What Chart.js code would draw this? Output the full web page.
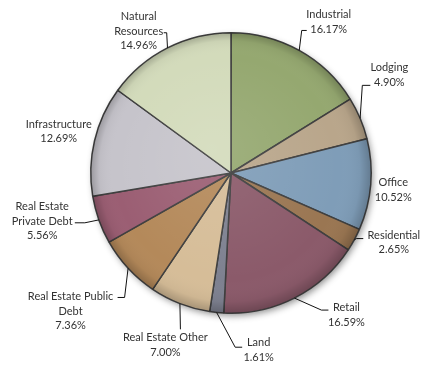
<!DOCTYPE html>
<html>
<head>
<meta charset="utf-8">
<script src="https://cdn.jsdelivr.net/npm/chart.js@4/dist/chart.umd.min.js"></script>
<style>
  html, body { margin: 0; padding: 0; background: #ffffff; }
  #wrap { width: 422px; height: 367px; }
</style>
</head>
<body>
<div id="wrap"><canvas id="pie" width="422" height="367"></canvas></div>
<script>
// Portfolio allocation by property / asset type (percent of total)
const categories = [
  'Industrial', 'Lodging', 'Office', 'Residential', 'Retail', 'Land',
  'Real Estate Other', 'Real Estate Public Debt', 'Real Estate Private Debt',
  'Infrastructure', 'Natural Resources'
];
const shares = [16.17, 4.90, 10.52, 2.65, 16.59, 1.61, 7.00, 7.36, 5.56, 12.69, 14.96];

// How each category name is broken onto lines in its label
const labelLines = [
  ['Industrial'], ['Lodging'], ['Office'], ['Residential'], ['Retail'], ['Land'],
  ['Real Estate Other'], ['Real Estate Public', 'Debt'], ['Real Estate', 'Private Debt'],
  ['Infrastructure'], ['Natural', 'Resources']
];

const sliceColors = [
  '#95a870', '#b9a68b', '#7f9db8', '#9a7652', '#8b5a6a', '#7e8190',
  '#d6bd98', '#b4895a', '#9b5e73', '#c6c4cb', '#d3dbbb'
];

// Label placement relative to the point on the rim at each slice's mid-angle:
// text = centre of the text block, elbow = bend of the leader line, tick = horizontal end
const labelPlacement = [
  { text: [29.5, -28.3], elbow: [2.5, -20],   tick: 5 },
  { text: [29.2, -43.4], elbow: [2.2, -32.9], tick: 8 },
  { text: [22.5, 5.2],   elbow: null,          tick: 0 },
  { text: [39.6, 2.7],   elbow: [2, -1.3],    tick: 7 },
  { text: [52, 17],      elbow: [27, 12],     tick: 7 },
  { text: [42, 37.7],    elbow: [18.5, 34.7], tick: 7 },
  { text: [-14.5, 41.2], elbow: [0.5, 25.7],  tick: 0 },
  { text: [-57.5, 42.7], elbow: [-3.5, 29.2], tick: -7 },
  { text: [-56.6, 1.4],  elbow: [-14, 2.9],   tick: -10 },
  { text: [-35.8, -9.1], elbow: null,          tick: 0 },
  { text: [-28.8, -16.7], elbow: [-0.8, -15.2], tick: -3 }
];

const LABEL_FONT = '11px Lato, "Open Sans", sans-serif';
const LINE_HEIGHT = 14.6;

// Soft drop shadow under the whole pie, drawn before the slices
const pieShadow = {
  id: 'pieShadow',
  beforeDatasetsDraw(chart) {
    const arc = chart.getDatasetMeta(0).data[0];
    if (!arc) return;
    const { x, y, outerRadius } = arc.getProps(['x', 'y', 'outerRadius'], true);
    const ctx = chart.ctx;
    ctx.save();
    ctx.shadowColor = 'rgba(0,0,0,0.45)';
    ctx.shadowBlur = 7;
    ctx.shadowOffsetX = 2;
    ctx.shadowOffsetY = 3;
    ctx.fillStyle = '#888888';
    ctx.beginPath();
    ctx.arc(x, y, outerRadius - 0.5, 0, Math.PI * 2);
    ctx.fill();
    ctx.restore();
  }
};

// Light bevel shading over the slices, then labels with leader lines
const pieLabels = {
  id: 'pieLabels',
  afterDatasetsDraw(chart) {
    const ctx = chart.ctx;
    const arcs = chart.getDatasetMeta(0).data;
    if (!arcs.length) return;
    const c = arcs[0].getProps(['x', 'y', 'outerRadius'], true);

    ctx.save();
    const g = ctx.createRadialGradient(c.x - 20, c.y - 25, 0, c.x, c.y, c.outerRadius);
    g.addColorStop(0, 'rgba(255,255,255,0.10)');
    g.addColorStop(0.8, 'rgba(255,255,255,0.0)');
    g.addColorStop(0.93, 'rgba(0,0,0,0.04)');
    g.addColorStop(1, 'rgba(0,0,0,0.22)');
    ctx.fillStyle = g;
    ctx.beginPath();
    ctx.arc(c.x, c.y, c.outerRadius, 0, Math.PI * 2);
    ctx.fill();
    ctx.restore();

    ctx.save();
    ctx.font = LABEL_FONT;
    ctx.textAlign = 'center';
    ctx.textBaseline = 'middle';
    arcs.forEach((arc, i) => {
      const p = arc.getProps(['x', 'y', 'startAngle', 'endAngle', 'outerRadius'], true);
      const mid = (p.startAngle + p.endAngle) / 2;
      const ex = p.x + Math.cos(mid) * p.outerRadius;
      const ey = p.y + Math.sin(mid) * p.outerRadius;
      const place = labelPlacement[i];

      if (place.elbow) {
        const bx = ex + place.elbow[0];
        const by = ey + place.elbow[1];
        ctx.strokeStyle = '#111111';
        ctx.lineWidth = 1;
        ctx.beginPath();
        ctx.moveTo(ex, ey);
        ctx.lineTo(bx, by);
        if (place.tick) ctx.lineTo(bx + place.tick, by);
        ctx.stroke();
      }

      const lines = labelLines[i].concat([shares[i].toFixed(2) + '%']);
      const tx = ex + place.text[0];
      const ty = ey + place.text[1];
      const top = ty - (lines.length - 1) * LINE_HEIGHT / 2;
      ctx.fillStyle = '#333333';
      lines.forEach((line, k) => ctx.fillText(line, tx, top + k * LINE_HEIGHT));
    });
    ctx.restore();
  }
};

new Chart(document.getElementById('pie'), {
  type: 'pie',
  data: {
    labels: categories,
    datasets: [{
      data: shares,
      backgroundColor: sliceColors,
      borderColor: '#3f3f3f',
      borderWidth: 1.5,
      hoverOffset: 0
    }]
  },
  options: {
    responsive: false,
    devicePixelRatio: 1,
    animation: false,
    layout: { padding: { left: 90, right: 50, top: 32, bottom: 53 } },
    plugins: {
      legend: { display: false },
      tooltip: { enabled: false }
    }
  },
  plugins: [pieShadow, pieLabels]
});
</script>
</body>
</html>
